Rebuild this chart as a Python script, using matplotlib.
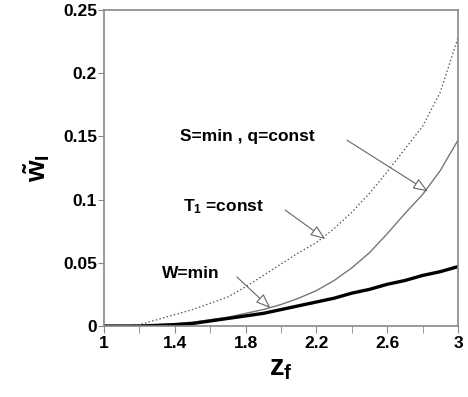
import numpy as np
import matplotlib
matplotlib.use('Agg')
import matplotlib.pyplot as plt

plt.rcParams['font.family'] = ['Liberation Sans', 'DejaVu Sans']
plt.rcParams['font.weight'] = 'bold'
plt.rcParams['mathtext.fontset'] = 'custom'
plt.rcParams['mathtext.rm'] = 'Liberation Sans:bold'
plt.rcParams['mathtext.it'] = 'Liberation Sans:bold'
plt.rcParams['mathtext.bf'] = 'Liberation Sans:bold'

# values
z_f = [1.0, 1.1, 1.2, 1.3, 1.4, 1.5, 1.6, 1.7, 1.8, 1.9, 2.0,
       2.1, 2.2, 2.3, 2.4, 2.5, 2.6, 2.7, 2.8, 2.9, 3.0]
w_t1_const = [0.0, 0.0, 0.001, 0.005, 0.009, 0.013, 0.018, 0.023, 0.031, 0.040, 0.049,
              0.058, 0.066, 0.077, 0.090, 0.105, 0.122, 0.140, 0.158, 0.185, 0.228]
w_s_min = [0.0, 0.0, 0.0, 0.001, 0.002, 0.003, 0.005, 0.007, 0.010, 0.013, 0.017,
           0.022, 0.028, 0.036, 0.046, 0.058, 0.073, 0.089, 0.104, 0.123, 0.147]
w_w_min = [0.0, 0.0, 0.0, 0.0005, 0.001, 0.002, 0.004, 0.006, 0.008, 0.010, 0.013,
           0.016, 0.019, 0.022, 0.026, 0.029, 0.033, 0.036, 0.040, 0.043, 0.047]

x_ticks = [1, 1.4, 1.8, 2.2, 2.6, 3]
x_ticklabels = ['1', '1.4', '1.8', '2.2', '2.6', '3']
y_ticks = [0, 0.05, 0.1, 0.15, 0.2, 0.25]
y_ticklabels = ['0', '0.05', '0.1', '0.15', '0.2', '0.25']

fig = plt.figure(figsize=(4.68, 3.97), dpi=100)
ax = fig.add_axes([0.2222, 0.1788, 0.7564, 0.796])

ax.plot(z_f, w_t1_const, color='#555555', linewidth=0.9, linestyle=(0, (1.2, 1.8)))
ax.plot(z_f, w_s_min, color='#777777', linewidth=1.0)
ax.plot(z_f, w_w_min, color='black', linewidth=2.4)

ax.set_xlim(1, 3)
ax.set_ylim(0, 0.25)
ax.set_xticks(x_ticks)
ax.set_xticklabels(x_ticklabels)
ax.set_xticks(np.arange(1, 3.01, 0.2), minor=True)
ax.set_yticks(y_ticks)
ax.set_yticklabels(y_ticklabels)
ax.tick_params(axis='both', which='both', direction='out', color='#888888',
               labelsize=12.5, top=False, right=False)
ax.tick_params(axis='x', which='both', length=5, pad=2)
ax.tick_params(axis='y', length=4, pad=1)
for s in ax.spines.values():
    s.set_color('#888888')
    s.set_linewidth(1.2)

ax.set_xlabel(r'$\mathbf{z_f}$', fontsize=21, labelpad=2)
ax.set_ylabel(r'$\tilde{w}_\mathbf{I}$', fontsize=20, labelpad=8)

arrow = dict(arrowstyle='-|>,head_length=0.9,head_width=0.35', color='#666666',
             lw=0.8, fc='white', shrinkA=0, shrinkB=0)

ax.text(1.429, 0.1503, 'S=min , q=const', ha='left', va='center', fontsize=12.5)
ax.annotate('', xy=(2.83, 0.1065), xytext=(2.373, 0.147), arrowprops=arrow)

ax.text(1.446, 0.0941, r'T$_\mathbf{1}$ =const', ha='left', va='center', fontsize=12.5)
ax.annotate('', xy=(2.25, 0.0688), xytext=(2.023, 0.0918), arrowprops=arrow)

ax.text(1.328, 0.0419, 'W=min', ha='left', va='center', fontsize=12.5)
ax.annotate('', xy=(1.94, 0.0142), xytext=(1.751, 0.0388), arrowprops=arrow)

fig.savefig('out.png', dpi=100)
